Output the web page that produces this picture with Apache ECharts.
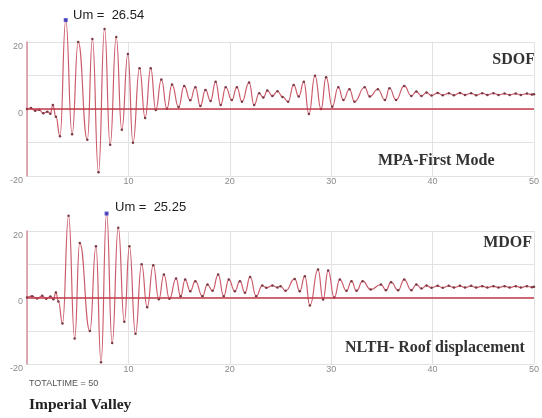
<!DOCTYPE html>
<html>
<head>
<meta charset="utf-8">
<script src="https://cdn.jsdelivr.net/npm/echarts@6/dist/echarts.min.js"></script>
<style>html,body{margin:0;padding:0;background:#fff}#c{width:542px;height:418px}</style>
</head>
<body>
<div id="c"></div>
<script>
// time (s), roof displacement — SDOF (MPA first mode)
var sdof = [
[0,0],[0.4,0.3],[0.8,-0.5],[1.2,-0.2],[1.6,-1.3],[2.0,-0.8],[2.3,-1.4],[2.55,1.2],[2.85,-2.3],[3.25,-8.1],
[3.82,26.54],[4.45,-7.5],[5.05,20.0],[5.95,-9.2],[6.45,20.9],[7.05,-18.9],[7.65,23.9],[8.2,-10.7],[8.8,21.5],[9.35,-6.2],
[9.95,16.4],[10.45,-10.1],[11.1,12.2],[11.65,-2.7],[12.2,12.2],[12.7,-0.3],[13.25,8.8],[13.8,0.1],[14.3,7.3],[14.95,0.6],
[15.5,6.9],[16.1,2.6],[16.6,6.5],[17.1,0.9],[17.6,5.7],[18.1,2.4],[18.6,8.1],[19.1,1.2],[19.6,6.5],[20.2,2.7],
[20.7,6.5],[21.2,2.2],[21.9,7.9],[22.4,1.2],[22.9,4.7],[23.3,3.4],[23.7,5.5],[24.2,3.9],[24.7,5.3],[25.2,3.6],
[25.75,2.2],[26.3,7.2],[26.8,3.7],[27.3,8.1],[27.8,-1.5],[28.4,9.9],[29.0,0.0],[29.5,9.5],[30.1,0.7],[30.7,6.5],
[31.2,2.7],[31.8,5.9],[32.3,2.2],[33.3,6.5],[33.8,3.7],[34.6,5.9],[35.3,2.7],[35.75,6.2],[36.4,2.7],[37.2,6.9],
[37.9,3.9],[38.4,5.2],[38.9,3.9],[39.4,4.9],[39.9,4.0],[40.5,4.8],[41.0,4.1],[41.6,4.7],[42.1,4.1],[42.7,4.8],
[43.2,4.2],[43.8,4.7],[44.3,4.1],[44.9,4.7],[45.4,4.2],[46.0,4.7],[46.5,4.2],[47.1,4.6],[47.6,4.2],[48.2,4.6],
[48.7,4.2],[49.3,4.6],[49.8,4.3],[50,4.4]
];
// time (s), roof displacement — MDOF (NLTH)
var mdof = [
[0,0],[0.5,0.4],[1.0,-0.3],[1.5,0.5],[1.9,-0.4],[2.3,0.3],[2.6,-0.5],[2.85,1.5],[3.1,-1.2],[3.5,-7.8],
[4.1,24.6],[4.7,-12.3],[5.2,16.4],[6.2,-10.1],[6.8,15.4],[7.3,-19.5],[7.85,25.25],[8.4,-13.7],[9.0,21.0],[9.6,-7.3],
[10.1,15.4],[10.7,-10.9],[11.3,10.0],[11.85,-2.9],[12.45,9.7],[13.0,-0.5],[13.5,6.9],[14.05,-0.4],[14.7,5.7],[15.15,0.4],
[15.6,5.4],[16.1,1.9],[16.6,4.9],[17.3,0.4],[17.8,3.9],[18.3,2.0],[18.85,6.9],[19.4,0.4],[19.9,5.4],[20.5,1.9],
[21.0,4.9],[21.5,1.4],[22.0,6.2],[22.6,0.4],[23.2,3.6],[23.6,2.9],[24.2,3.6],[24.7,3.0],[25.0,3.4],[25.5,2.0],
[26.4,5.6],[26.9,1.9],[27.4,6.4],[27.9,-2.4],[28.7,8.4],[29.2,-0.6],[29.7,8.1],[30.3,0.0],[30.85,5.4],[31.5,2.0],
[32.0,4.9],[32.5,2.0],[33.1,4.9],[33.9,2.4],[34.9,3.9],[35.4,2.2],[35.9,4.6],[36.6,2.2],[37.2,5.4],[37.9,2.2],
[38.4,3.9],[38.9,2.7],[39.4,3.6],[39.9,2.9],[40.5,3.5],[41.0,2.9],[41.6,3.5],[42.1,3.0],[42.7,3.5],[43.2,3.0],
[43.8,3.5],[44.3,3.0],[44.9,3.4],[45.4,3.0],[46.0,3.4],[46.5,3.0],[47.1,3.4],[47.6,3.0],[48.2,3.4],[48.7,3.0],
[49.3,3.4],[49.8,3.1],[50,3.2]
];
var xTicks = [10, 20, 30, 40, 50];
var yTicks = [-20, 0, 20];
var umTop = 26.54, umBottom = 25.25;
var labelTop = ['SDOF', 'MPA-First Mode'];
var labelBottom = ['MDOF', 'NLTH- Roof displacement'];
var footer = ['TOTALTIME = 50', 'Imperial Valley'];

function maxPoint(arr){var m=arr[0];arr.forEach(function(p){if(p[1]>m[1])m=p;});return m;}

var chart = echarts.init(document.getElementById('c'), null, {renderer:'canvas'});
function xAx(i){
  return {gridIndex:i,type:'value',min:0,max:50,interval:10,
    axisLine:{show:false},axisTick:{show:false},
    splitLine:{show:true,lineStyle:{color:'#e2e2e2',width:1}},
    axisLabel:{color:'#8a8a8a',fontSize:9,fontFamily:'Liberation Sans',margin:1,
      formatter:function(v){return xTicks.indexOf(v)>=0?String(v):'';}}};
}
function yAx(i){
  return {gridIndex:i,type:'value',min:-20,max:20,interval:10,
    axisLine:{show:true,lineStyle:{color:'#d88e98',width:1.5}},axisTick:{show:false},
    splitLine:{show:true,lineStyle:{color:'#e2e2e2',width:1}},
    axisLabel:{color:'#8a8a8a',fontSize:9,fontFamily:'Liberation Sans',margin:4,verticalAlign:'top',
      formatter:function(v){return yTicks.indexOf(v)>=0?String(v):'';}}};
}
function lineSeries(i,data){
  return {type:'line',xAxisIndex:i,yAxisIndex:i,data:data,smooth:0.5,smoothMonotone:'x',clip:false,
    showSymbol:true,symbol:'circle',symbolSize:2.5,
    itemStyle:{color:'#7a3a44'},lineStyle:{color:'#cc5c6c',width:1.2},
    animation:false,z:3,
    markLine:{silent:true,symbol:'none',label:{show:false},animation:false,
      lineStyle:{color:'#c23a4a',width:1.6,type:'solid'},data:[{yAxis:0}]}};
}
function peakSeries(i,data){
  return {type:'scatter',xAxisIndex:i,yAxisIndex:i,data:[maxPoint(data)],symbol:'rect',symbolSize:4,
    itemStyle:{color:'#3a3ac8'},clip:false,animation:false,z:5};
}
var serifBold = 'bold 16px "Liberation Serif", "Times New Roman", serif';
chart.setOption({
  animation:false,
  grid:[{left:27,top:42,width:510,height:134},{left:27,top:231,width:510,height:133}],
  xAxis:[xAx(0),xAx(1)],
  yAxis:[yAx(0),yAx(1)],
  series:[lineSeries(0,sdof),peakSeries(0,sdof),lineSeries(1,mdof),peakSeries(1,mdof)],
  graphic:[
    {type:'text',x:73,y:15,style:{text:'Um =  '+umTop.toFixed(2),font:'13px "Liberation Sans", Arial, sans-serif',fill:'#222',verticalAlign:'middle'}},
    {type:'text',x:115,y:207,style:{text:'Um =  '+umBottom.toFixed(2),font:'13px "Liberation Sans", Arial, sans-serif',fill:'#222',verticalAlign:'middle'}},
    {type:'text',x:535,y:60,style:{text:labelTop[0],font:serifBold,fill:'#333',align:'right',verticalAlign:'middle'}},
    {type:'text',x:378,y:161,style:{text:labelTop[1],font:serifBold,fill:'#333',verticalAlign:'middle'}},
    {type:'text',x:532,y:243,style:{text:labelBottom[0],font:serifBold,fill:'#333',align:'right',verticalAlign:'middle'}},
    {type:'text',x:345,y:348,style:{text:labelBottom[1],font:serifBold,fill:'#333',verticalAlign:'middle'}},
    {type:'text',x:29,y:384,style:{text:footer[0],font:'9px "Liberation Sans", sans-serif',fill:'#555',verticalAlign:'middle'}},
    {type:'text',x:29,y:405,style:{text:footer[1],font:'bold 15.5px "Liberation Serif", "Times New Roman", serif',fill:'#222',verticalAlign:'middle'}}
  ]
});
</script>
</body>
</html>
